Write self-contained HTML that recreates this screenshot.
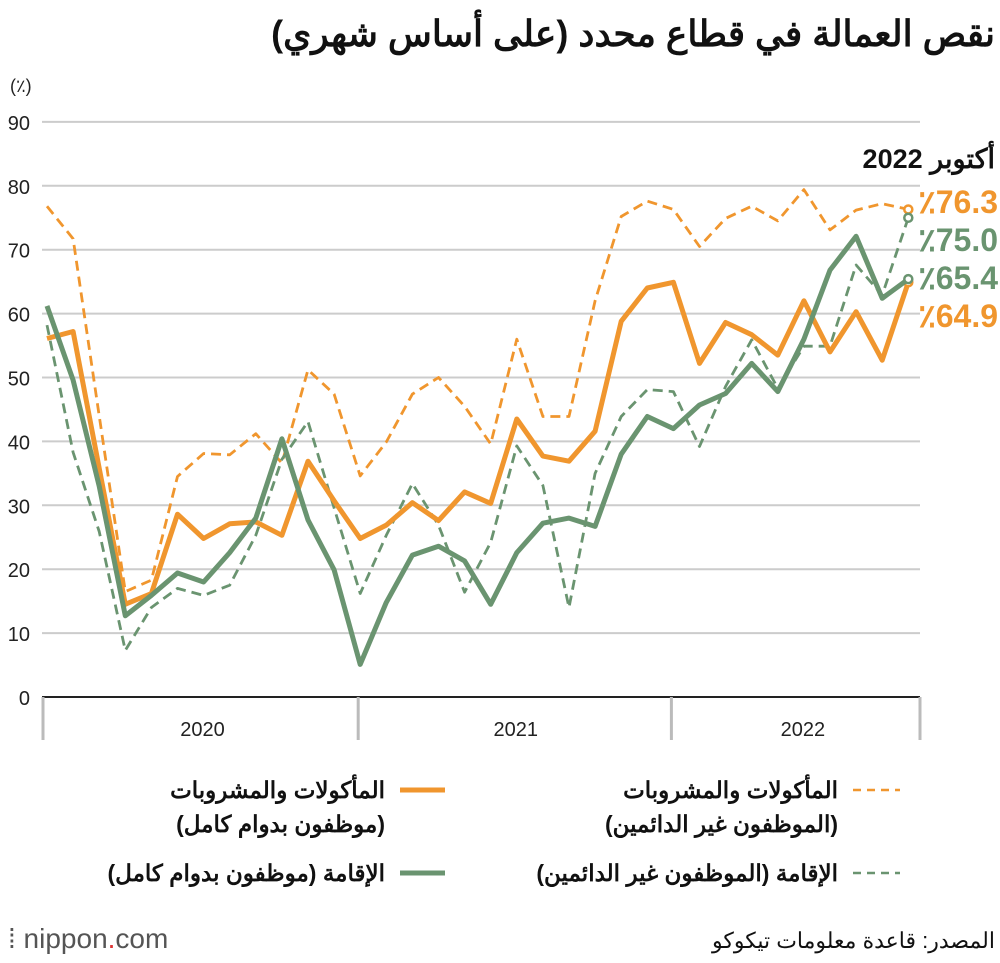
<!DOCTYPE html>
<html><head><meta charset="utf-8">
<style>
body{margin:0;background:#fff;width:1000px;height:958px;overflow:hidden;font-family:"Liberation Sans","Noto Sans CJK SC",sans-serif;}
svg text{font-family:"Liberation Sans","Noto Sans CJK SC",sans-serif;}
</style></head>
<body>
<svg id="chart" width="1000" height="958" viewBox="0 0 1000 958">
<text x="995" y="46" text-anchor="start" direction="rtl" font-size="36" font-weight="bold" fill="#111">نقص العمالة في قطاع محدد (على أساس شهري)</text>
<text x="10" y="92" font-size="18" fill="#222">(٪)</text>
<g id="grid"></g>
<g id="series"></g>
<text x="995" y="168" text-anchor="start" direction="rtl" font-size="27" font-weight="bold" fill="#111">أكتوبر 2022</text>
<g id="endlabels"></g>
<!-- legend -->
<line x1="400" y1="790" x2="445" y2="790" stroke="#F0962E" stroke-width="5"/>
<text x="385" y="798" text-anchor="start" direction="rtl" font-size="23" font-weight="bold" fill="#111">المأكولات والمشروبات</text>
<text x="385" y="832" text-anchor="start" direction="rtl" font-size="23" font-weight="bold" fill="#111">(موظفون بدوام كامل)</text>
<line x1="853" y1="790" x2="900" y2="790" stroke="#F0962E" stroke-width="2.5" stroke-dasharray="8,6"/>
<text x="838" y="798" text-anchor="start" direction="rtl" font-size="23" font-weight="bold" fill="#111">المأكولات والمشروبات</text>
<text x="838" y="832" text-anchor="start" direction="rtl" font-size="23" font-weight="bold" fill="#111">(الموظفون غير الدائمين)</text>
<line x1="400" y1="873" x2="445" y2="873" stroke="#6A9470" stroke-width="5"/>
<text x="385" y="881" text-anchor="start" direction="rtl" font-size="23" font-weight="bold" fill="#111">الإقامة (موظفون بدوام كامل)</text>
<line x1="853" y1="873" x2="900" y2="873" stroke="#6A9470" stroke-width="2.5" stroke-dasharray="8,6"/>
<text x="838" y="881" text-anchor="start" direction="rtl" font-size="23" font-weight="bold" fill="#111">الإقامة (الموظفون غير الدائمين)</text>
<text x="8" y="948" font-size="28" fill="#555">⁞ nippon<tspan fill="#d33">.</tspan>com</text>
<text x="995" y="948" text-anchor="start" direction="rtl" font-size="22" fill="#111">المصدر: قاعدة معلومات تيكوكو</text>
</svg>
<script>
const yTicks=[0,10,20,30,40,50,60,70,80,90];
const years=["2020","2021","2022"];
const foodFull=[56.1,57.2,35.8,14.5,16.2,28.6,24.8,27.1,27.4,25.3,36.9,30.7,24.8,26.9,30.4,27.6,32.1,30.3,43.5,37.7,36.9,41.6,58.8,64.0,64.9,52.2,58.6,56.7,53.5,62.0,54.0,60.3,52.7,64.9];
const accomFull=[61.2,49.6,33.0,12.7,15.9,19.4,18.0,22.6,28.0,40.4,27.7,19.9,5.1,14.8,22.2,23.6,21.3,14.5,22.6,27.2,28.0,26.7,38.0,43.9,42.0,45.7,47.5,52.2,47.8,56.0,66.8,72.1,62.4,65.4];
const foodTemp=[76.8,71.7,44.0,16.5,18.3,34.5,38.1,37.9,41.2,36.6,51.2,47.4,34.6,39.9,47.4,50.0,45.5,39.6,56.0,43.9,43.9,62.0,75.2,77.6,76.3,70.5,74.9,76.8,74.5,79.4,73.1,76.2,77.2,76.3];
const accomTemp=[58.2,38.3,25.9,7.3,14.0,17.0,15.9,17.5,25.3,37.2,43.1,29.6,16.2,25.3,33.4,26.9,16.4,24.2,39.3,33.1,14.0,35.0,43.9,48.1,47.8,39.2,48.6,55.9,48.3,54.9,54.9,67.6,62.9,75.0];
const endLabels=["٪76.3","٪75.0","٪65.4","٪64.9"];

const NS="http://www.w3.org/2000/svg";
const x0=47,step=26.1,y0=697,py=6.39;
const X=i=>x0+i*step, Y=v=>y0-v*py;
function mk(tag,attrs,parent){const e=document.createElementNS(NS,tag);for(const k in attrs)e.setAttribute(k,attrs[k]);parent.appendChild(e);return e;}
const grid=document.getElementById('grid');
yTicks.forEach(t=>{
  if(t>0){const l=mk('line',{x1:42,x2:920,y1:Y(t),y2:Y(t),stroke:'#ccc','stroke-width':2},grid);
  
  }
  const tx=mk('text',{x:30,y:Y(t)+8,'text-anchor':'end','font-size':20,fill:'#222'},grid);
  tx.textContent=t;
  
  
});
const ax=mk('line',{x1:42,x2:920,y1:y0,y2:y0,stroke:'#222','stroke-width':2},grid);


[0,12,24,34].forEach((m,k)=>{
  const xx=k===0?43:(k===3?920:X(m)-2);
  const d=mk('line',{x1:xx,x2:xx,y1:y0,y2:740,stroke:'#bbb','stroke-width':3},grid);
  
  
});
years.forEach((yr,k)=>{
  const a=k*12, b=Math.min(k*12+11,33);
  const t=mk('text',{x:(X(a)+X(b))/2+12,y:736,'text-anchor':'middle','font-size':20,fill:'#222'},grid);
  t.textContent=yr;
  
  
});
const ser=document.getElementById('series');
function line(arr,color,w,dash,name){
  const pts=arr.map((v,i)=>X(i).toFixed(1)+','+Y(v).toFixed(1)).join(' ');
  const p=mk('polyline',{points:pts,fill:'none',stroke:color,'stroke-width':w,'stroke-linejoin':'round'},ser);
  if(dash)p.setAttribute('stroke-dasharray',dash);
  
  
  const n=arr.length-1;
  const c=mk('circle',{cx:X(n),cy:Y(arr[n]),r:4,fill:'#fff',stroke:color,'stroke-width':2.5},ser);
  
  
}
line(foodTemp,'#F0962E',2.8,'10,6','food-temp-line');
line(accomTemp,'#6A9470',2.8,'10,6','accom-temp-line');
line(foodFull,'#F0962E',5,null,'food-fulltime-line');
line(accomFull,'#6A9470',5,null,'accom-fulltime-line');
const el=document.getElementById('endlabels');
const cols=['#F0962E','#6A9470','#6A9470','#F0962E'];
const ys=[213,251,289,327];
endLabels.forEach((s,i)=>{
  const t=mk('text',{x:998,y:ys[i],'text-anchor':'end','font-size':32,'font-weight':'bold',fill:cols[i]},el);
  t.textContent=s;
  
  
});
</script>
</body></html>
